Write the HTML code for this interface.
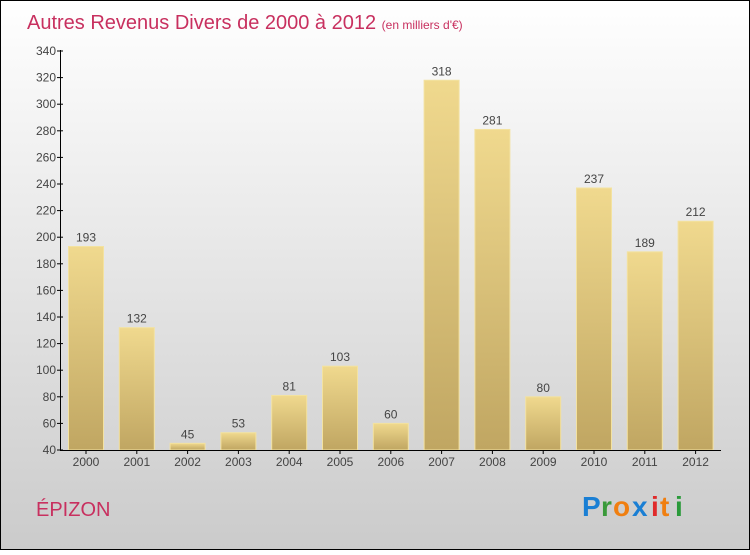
<!DOCTYPE html>
<html><head><meta charset="utf-8"><style>
body{margin:0}
#c{width:750px;height:550px;position:relative;font-family:"Liberation Sans",sans-serif}
</style></head><body>
<div id="c">
<svg width="750" height="550" xmlns="http://www.w3.org/2000/svg">
<defs>
<linearGradient id="bg" x1="0" y1="0" x2="0" y2="1"><stop offset="0" stop-color="#ffffff"/><stop offset="1" stop-color="#cbcbcb"/></linearGradient>
<linearGradient id="bar" x1="0" y1="0" x2="0" y2="1"><stop offset="0" stop-color="#f0d98e"/><stop offset="1" stop-color="#c0a662"/></linearGradient>
</defs>
<rect x="0.5" y="0.5" width="749" height="549" fill="url(#bg)" stroke="#000"/>
<text x="27" y="29" font-size="20" fill="#c8305f">Autres Revenus Divers de 2000 à 2012 <tspan font-size="12">(en milliers d'€)</tspan></text>
<g id="bars"></g>
<g id="axes"></g>
<text x="36" y="516" font-size="20" fill="#c8305f">ÉPIZON</text>
<g font-size="28" font-weight="bold" font-family="Liberation Sans,sans-serif">
<text x="582" y="516" fill="#1a7fd4">P</text><text x="601" y="516" fill="#3a9a3a">r</text><text x="613" y="516" fill="#f07f10">o</text><text x="632" y="516" fill="#1a7fd4">x</text><text x="651" y="516" fill="#e02a2a">i</text><text x="660" y="516" fill="#f07f10">t</text><text x="675" y="516" fill="#2a9a3a">i</text>
</g>
</svg>
</div>
<script>
const years=["2000","2001","2002","2003","2004","2005","2006","2007","2008","2009","2010","2011","2012"];
const values=[193,132,45,53,81,103,60,318,281,80,237,189,212];
const yTicks=[40,60,80,100,120,140,160,180,200,220,240,260,280,300,320,340];
const NS="http://www.w3.org/2000/svg";
const x0=60,pitch=50.8,bw=35,yMin=40,yMax=340,yTop=51,yBot=450;
const ys=v=>yBot-(v-yMin)/(yMax-yMin)*(yBot-yTop);
const xc=i=>x0+26+i*pitch;
function mk(t,a,p){const e=document.createElementNS(NS,t);for(const k in a)e.setAttribute(k,a[k]);p.appendChild(e);return e;}
const gb=document.getElementById('bars'),ga=document.getElementById('axes');
values.forEach((v,i)=>{
 const r=mk('rect',{x:xc(i)-bw/2,y:ys(v),width:bw,height:yBot-ys(v),fill:'url(#bar)',stroke:'#f3e2a0','stroke-width':1},gb);
 
 
 const t=mk('text',{x:xc(i),y:ys(v)-5,'text-anchor':'middle','font-size':12,fill:'#444'},gb);t.textContent=v;
 
 
 const l=mk('text',{x:xc(i),y:466,'text-anchor':'middle','font-size':12,fill:'#444'},ga);l.textContent=years[i];
 
 
 mk('line',{x1:xc(i),x2:xc(i),y1:450,y2:454,stroke:'#000'},ga);
});
yTicks.forEach(v=>{
 mk('line',{x1:57,x2:63,y1:ys(v),y2:ys(v),stroke:'#000'},ga);
 const t=mk('text',{x:56,y:ys(v)+4,'text-anchor':'end','font-size':12,fill:'#444'},ga);t.textContent=v;
 
 
});
const ya=mk('line',{x1:60.5,x2:60.5,y1:50,y2:451,stroke:'#000'},ga);


const xa=mk('line',{x1:60,x2:721,y1:450.5,y2:450.5,stroke:'#000'},ga);


</script>
</body></html>
